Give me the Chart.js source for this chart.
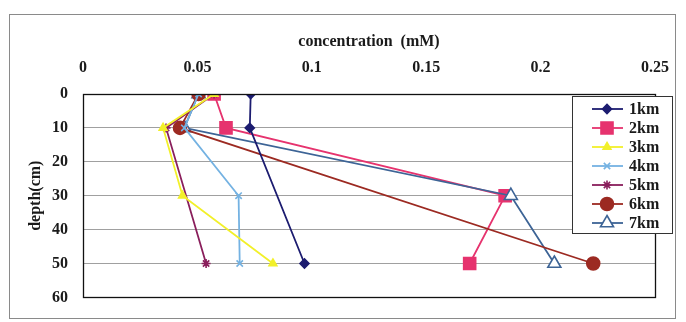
<!DOCTYPE html>
<html>
<head>
<meta charset="utf-8">
<script src="https://cdn.jsdelivr.net/npm/chart.js@4"></script>
<style>
  html, body { margin: 0; padding: 0; background: #fff; }
  #wrap { width: 686px; height: 322px; position: relative; }
</style>
</head>
<body>
<div id="wrap"><canvas id="c" width="686" height="322"></canvas></div>
<script>
// ---- data ----
const depths = [0, 10, 30, 50];
const xTicks = [0, 0.05, 0.1, 0.15, 0.2, 0.25];
const yTicks = [0, 10, 20, 30, 40, 50, 60];
const seriesNames = ['1km', '2km', '3km', '4km', '5km', '6km', '7km'];
const km1 = [0.0733, 0.0729, null, 0.0968];
const km2 = [0.0573, 0.0625, 0.1845, 0.169];
const km3 = [0.0573, 0.035, 0.0435, 0.083];
const km4 = [0.0505, 0.0443, 0.068, 0.0685];
const km5 = [0.0573, 0.0363, null, 0.0538];
const km6 = [0.0505, 0.0424, null, 0.223];
const km7 = [0.0505, 0.0443, 0.187, 0.206];
const seriesValues = [km1, km2, km3, km4, km5, km6, km7];

// ---- styles ----
const styles = [
  { color: '#1c1c70', fill: '#1c1c70', pointStyle: 'rectRot', radius: 4.5, order: 0 },
  { color: '#e6336e', fill: '#e6336e', pointStyle: 'rect', radius: 8.5, order: 3 },
  { color: '#f2f02a', fill: '#f2f02a', pointStyle: 'triangle', radius: 4.5, order: 0 },
  { color: '#74b2e2', fill: '#74b2e2', pointStyle: 'crossRot', radius: 4.5, order: 0 },
  { color: '#8a1f5c', fill: '#8a1f5c', pointStyle: 'star', radius: 4.5, order: 0 },
  { color: '#9c2a22', fill: '#9c2a22', pointStyle: 'circle', radius: 6.5, order: 0 },
  { color: '#3d6496', fill: '#ffffff', pointStyle: 'triangle', radius: 7.5, order: 2 }
];

const FONT = "'Liberation Serif', 'Times New Roman', serif";

const datasets = seriesNames.map((name, i) => {
  const pts = [];
  seriesValues[i].forEach((v, j) => { if (v !== null) pts.push({ x: v, y: depths[j] }); });
  const s = styles[i];
  return {
    label: name,
    data: pts,
    order: s.order,
    borderColor: s.color,
    backgroundColor: s.fill,
    pointBorderColor: s.color,
    pointBackgroundColor: s.fill,
    pointStyle: s.pointStyle,
    pointRadius: s.radius,
    pointHoverRadius: s.radius,
    pointBorderWidth: 1.6,
    borderWidth: 1.8,
    tension: 0,
    fill: false
  };
});

const framePlugin = {
  id: 'frame',
  beforeDraw(chart) {
    const ctx = chart.ctx;
    ctx.save();
    ctx.fillStyle = '#ffffff';
    ctx.fillRect(0, 0, chart.width, chart.height);
    ctx.strokeStyle = '#8a8a8a';
    ctx.lineWidth = 1;
    ctx.strokeRect(9.5, 14.5, 666, 304);
    ctx.restore();
  },
  afterDatasetsDraw(chart) {
    const a = chart.chartArea;
    const ctx = chart.ctx;
    ctx.save();
    ctx.strokeStyle = '#111';
    ctx.lineWidth = 1.3;
    ctx.strokeRect(Math.round(a.left) + 0.5, Math.round(a.top) + 0.5, Math.round(a.right - a.left), Math.round(a.bottom - a.top));
    ctx.restore();
  },
  afterDraw(chart) {
    const ctx = chart.ctx;
    ctx.save();
    const bx = 572.5, by = 96.5, bw = 100, bh = 137;
    ctx.fillStyle = '#ffffff';
    ctx.fillRect(bx, by, bw, bh);
    ctx.strokeStyle = '#333';
    ctx.lineWidth = 1;
    ctx.strokeRect(bx, by, bw, bh);
    chart.data.datasets.forEach((ds, i) => {
      const y = 109 + i * 19;
      ctx.strokeStyle = ds.borderColor;
      ctx.lineWidth = 1.8;
      ctx.beginPath();
      ctx.moveTo(592, y);
      ctx.lineTo(623, y);
      ctx.stroke();
      ctx.fillStyle = ds.pointBackgroundColor;
      ctx.strokeStyle = ds.pointBorderColor;
      ctx.lineWidth = 1.6;
      Chart.helpers.drawPoint(ctx, { pointStyle: ds.pointStyle, rotation: 0, radius: ds.pointRadius, borderWidth: 1.6 }, 607, y);
      ctx.fillStyle = '#1a1a1a';
      ctx.font = "bold 16px " + FONT;
      ctx.textAlign = 'left';
      ctx.textBaseline = 'middle';
      ctx.fillText(ds.label, 629, y + 1);
    });
    ctx.restore();
  }
};

new Chart(document.getElementById('c'), {
  type: 'line',
  data: { datasets },
  plugins: [framePlugin],
  options: {
    responsive: false,
    animation: false,
    devicePixelRatio: 1,
    layout: { padding: { left: 0, top: 0, right: 27, bottom: 22 } },
    plugins: { legend: { display: false }, tooltip: { enabled: false } },
    scales: {
      x: {
        type: 'linear',
        position: 'top',
        min: xTicks[0],
        max: xTicks[xTicks.length - 1],
        afterBuildTicks(s) { s.ticks = xTicks.map(v => ({ value: v })); },
        afterFit(s) { s.height = 94; },
        grid: { display: false, drawTicks: false },
        border: { display: false },
        ticks: {
          padding: 17,
          color: '#1a1a1a',
          font: { family: FONT, size: 16, weight: 'bold' },
          callback: v => String(v)
        },
        title: {
          display: true,
          text: 'concentration  (mM)',
          color: '#1a1a1a',
          font: { family: FONT, size: 16, weight: 'bold' },
          padding: { top: 32, bottom: 0 }
        }
      },
      y: {
        type: 'linear',
        reverse: true,
        min: yTicks[0],
        max: yTicks[yTicks.length - 1],
        afterBuildTicks(s) { s.ticks = yTicks.map(v => ({ value: v })); },
        afterFit(s) { s.width = 83; },
        grid: { color: '#a0a0a0', lineWidth: 1, drawTicks: false },
        border: { display: false },
        ticks: {
          padding: 15,
          color: '#1a1a1a',
          font: { family: FONT, size: 16, weight: 'bold' },
          callback: v => String(v)
        },
        title: {
          display: true,
          text: 'depth(cm)',
          color: '#1a1a1a',
          font: { family: FONT, size: 16, weight: 'bold' },
          padding: { top: 26, bottom: 0 }
        }
      }
    }
  }
});
</script>
</body>
</html>
